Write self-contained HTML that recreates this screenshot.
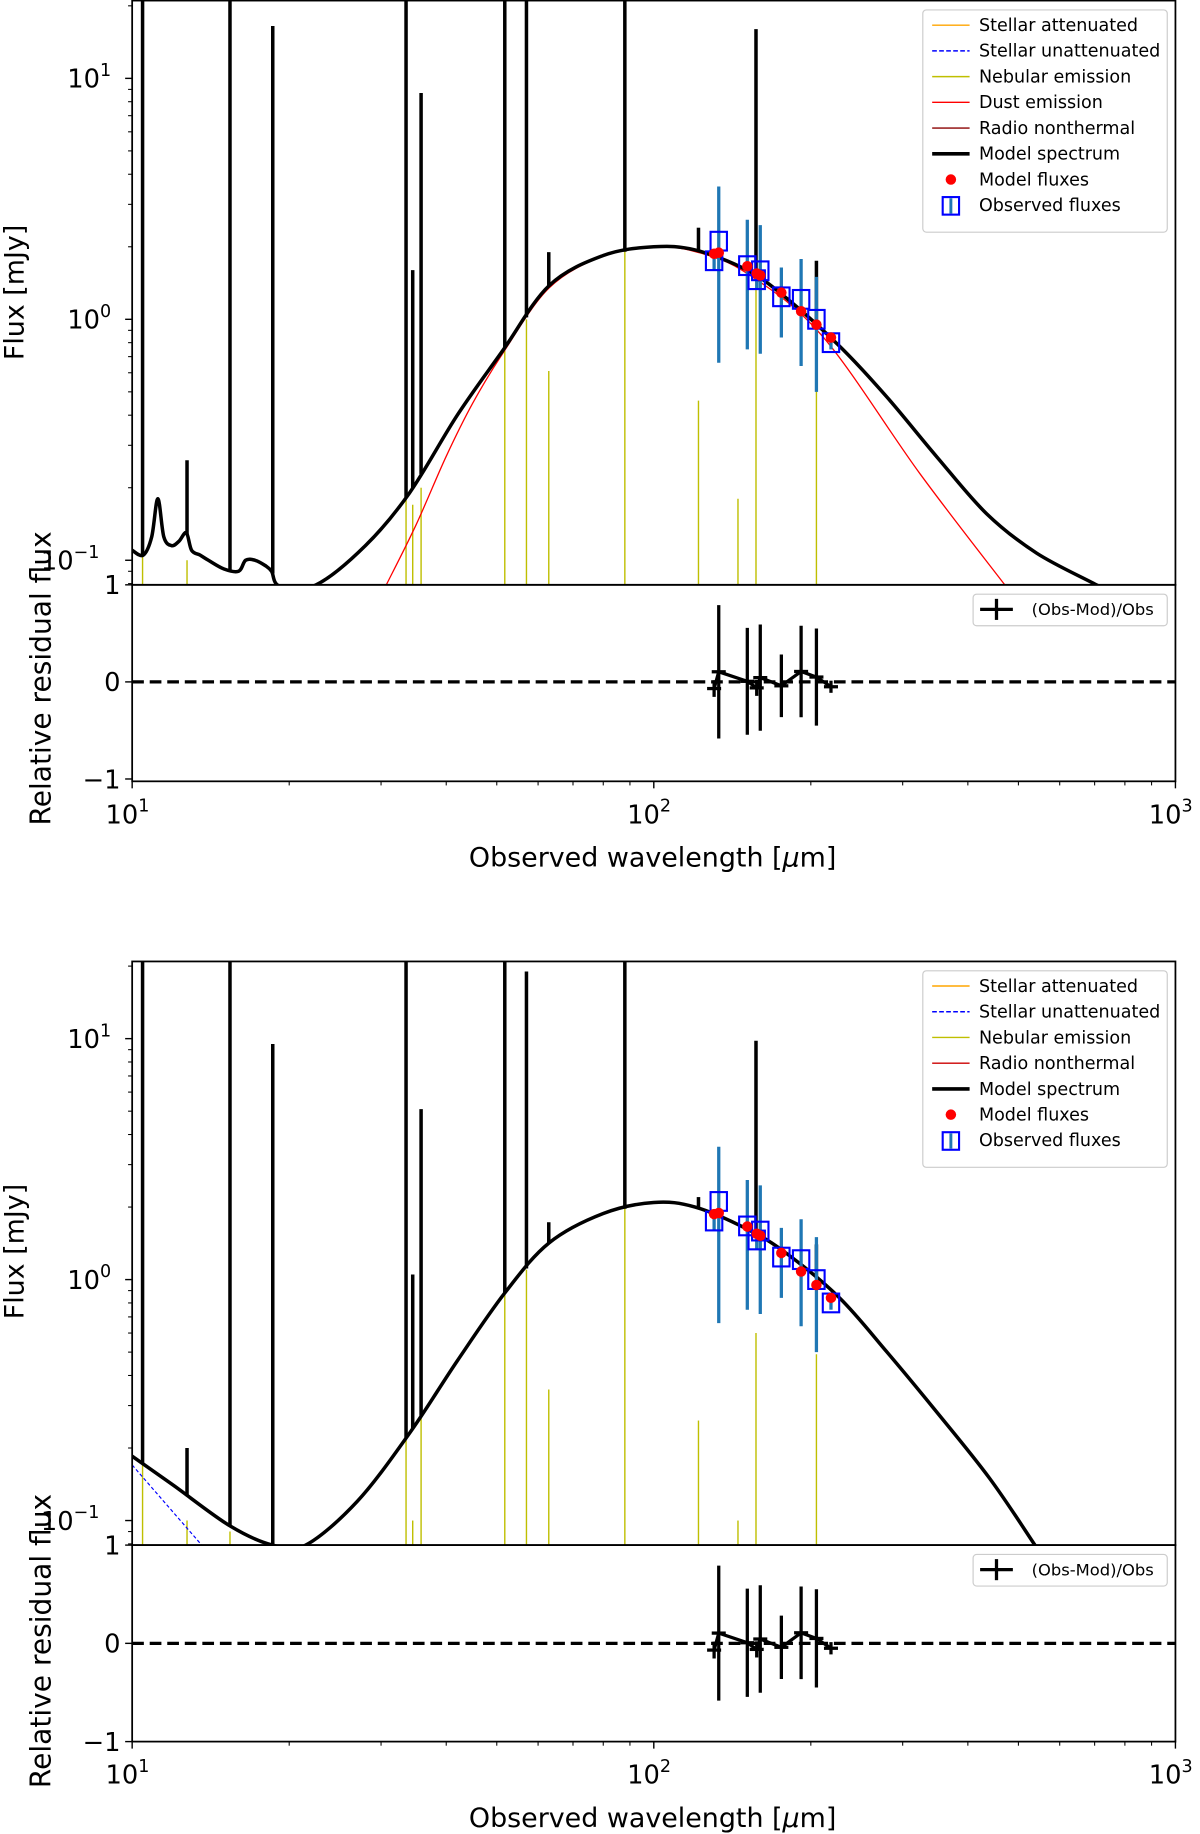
<!DOCTYPE html>
<html><head><meta charset="utf-8"><style>
html,body{margin:0;padding:0;background:#fff}
svg{display:block}
text{font-family:"DejaVu Sans","Liberation Sans",sans-serif;fill:#000}
</style></head><body>
<svg id="chart" width="1200" height="1834" viewBox="0 0 1026 1568" preserveAspectRatio="none" xmlns="http://www.w3.org/2000/svg"></svg>
<script>
// ---- data (shared observations) ----
const obsW   = [130.5, 133.2, 151.1, 157.5, 160.0, 175.6, 191.6, 205.0, 218.6];
const obsF   = [1.75, 2.11, 1.67, 1.46, 1.59, 1.24, 1.21, 1.00, 0.80];
const obsErr = [0.15, 1.45, 0.92, 0.12, 0.87, 0.40, 0.57, 0.50, 0.05];
const modF1  = [1.87, 1.89, 1.66, 1.55, 1.52, 1.29, 1.08, 0.95, 0.84];
const modF2  = [1.87, 1.89, 1.66, 1.55, 1.52, 1.29, 1.08, 0.95, 0.84];
// emission line wavelengths (shared)
const lineW  = [10.47, 12.74, 15.4, 18.6, 33.5, 34.5, 35.8, 51.8, 57.0, 62.9, 88.0, 121.8, 157.0, 205.0];
// top panel
const topLinePeak = [100, 0.26, 100, 16.5, 100, 1.6, 8.7, 100, 100, 1.9, 100, 2.4, 16, 1.75];
const topNebW     = [10.47, 12.74, 33.5, 34.5, 35.8, 51.8, 57.0, 62.9, 88.0, 121.8, 145.0, 157.0, 205.0];
const topNebPeak  = [0.11, 0.1, 0.2, 0.17, 0.2, 0.8, 1.0, 0.61, 2.0, 0.46, 0.18, 1.5, 0.9];
const topContW = [10, 10.5, 10.9, 11.2, 11.5, 11.9, 12.3, 12.7, 13.0, 13.5, 14.0, 15.0, 16.0, 16.5, 17.2, 18.0, 18.5, 19.2, 22.5, 28, 34, 42, 51.3, 63, 80, 100, 120, 151, 180, 227.5, 279.5, 348.6, 434.5, 542, 706, 800];
const topContF = [0.11, 0.105, 0.125, 0.18, 0.125, 0.115, 0.12, 0.13, 0.11, 0.105, 0.1, 0.092, 0.09, 0.1, 0.1, 0.095, 0.09, 0.078, 0.079, 0.115, 0.19, 0.4, 0.74, 1.38, 1.84, 2.0, 1.94, 1.6, 1.22, 0.77, 0.477, 0.269, 0.156, 0.107, 0.079, 0.068];
const topDustW = [30.7, 35, 40, 45, 51.3, 63, 80, 100, 120, 151, 211, 323.6, 471, 520];
const topDustF = [0.079, 0.14, 0.27, 0.45, 0.72, 1.35, 1.83, 1.99, 1.91, 1.55, 0.846, 0.229, 0.079, 0.06];
// bottom panel
const botLinePeak = [100, 0.2, 100, 9.5, 100, 1.05, 5.1, 100, 19, 1.73, 100, 2.2, 9.8, 1.4];
const botNebW     = [10.47, 12.74, 15.4, 33.5, 34.5, 35.8, 51.8, 57.0, 62.9, 88.0, 121.8, 145.0, 157.0, 205.0];
const botNebPeak  = [0.17, 0.1, 0.09, 0.22, 0.1, 0.27, 0.9, 1.1, 0.35, 2.0, 0.26, 0.1, 0.6, 0.49];
const botContW = [10, 12, 15.4, 18.6, 21.5, 27, 34, 42, 51.8, 63, 80, 100, 120, 151, 180, 227, 280, 345, 440, 538, 600];
const botContF = [0.185, 0.14, 0.095, 0.079, 0.079, 0.12, 0.23, 0.46, 0.88, 1.42, 1.88, 2.09, 2.0, 1.62, 1.28, 0.84, 0.5, 0.29, 0.15, 0.079, 0.055];
const botStellarW = [10, 13.6];
const botStellarF = [0.17, 0.079];
const xTickVals = [10, 100, 1000];
const xTickExp = ['1', '2', '3'];

const NS = 'http://www.w3.org/2000/svg';
const svg = document.getElementById('chart');
function el(tag, attrs, parent) {
  const e = document.createElementNS(NS, tag);
  for (const k in attrs) e.setAttribute(k, attrs[k]);
  (parent || svg).appendChild(e);
  return e;
}
const X0 = 113, X1 = 1005, DEC = 446;
const xS = w => X0 + DEC * (Math.log10(w) - 1);

function smoothPath(P) {
  let d = 'M' + P[0][0] + ',' + P[0][1];
  for (let i = 0; i < P.length - 1; i++) {
    const p0 = P[Math.max(i - 1, 0)], p1 = P[i], p2 = P[i + 1], p3 = P[Math.min(i + 2, P.length - 1)];
    const c1x = p1[0] + (p2[0] - p0[0]) / 6, c1y = p1[1] + (p2[1] - p0[1]) / 6;
    const c2x = p2[0] - (p3[0] - p1[0]) / 6, c2y = p2[1] - (p3[1] - p1[1]) / 6;
    d += ' C' + c1x + ',' + c1y + ' ' + c2x + ',' + c2y + ' ' + p2[0] + ',' + p2[1];
  }
  return d;
}

function interpLog(ws, fs, w) {
  const lw = Math.log10(w);
  for (let i = 0; i < ws.length - 1; i++) {
    const a = Math.log10(ws[i]), b = Math.log10(ws[i + 1]);
    if (lw >= a && lw <= b) {
      const t = (lw - a) / (b - a);
      return Math.pow(10, Math.log10(fs[i]) * (1 - t) + Math.log10(fs[i + 1]) * t);
    }
  }
  return fs[fs.length - 1];
}

function panel(p) {
  const g = el('g', {});
  
  
  const yS = f => p.y0 - 206 * Math.log10(f);
  const rS = r => p.rMid - p.rUnit * r;
  const cid = p.name + '-clip';
  const cp = el('clipPath', { id: cid }, g);
  el('rect', { x: X0, y: p.top, width: X1 - X0, height: p.bot - p.top }, cp);
  const cg = el('g', { 'clip-path': 'url(#' + cid + ')' }, g);

  p.nebW.forEach((w, i) => {
    const l = el('line', { x1: xS(w), x2: xS(w), y1: p.bot + 2, y2: yS(p.nebPeak[i]), stroke: '#bfbf00', 'stroke-width': 1.2 }, cg);
    
    
  });
  if (p.stW) {
    const pts = p.stW.map((w, i) => xS(w) + ',' + yS(p.stF[i])).join(' ');
    const s = el('polyline', { points: pts, fill: 'none', stroke: '#0000ff', 'stroke-width': 1, 'stroke-dasharray': '3,2' }, cg);
    
    
  }
  if (p.dustW) {
    const d = el('path', { d: smoothPath(p.dustW.map((w, i) => [xS(w), yS(p.dustF[i])])), fill: 'none', stroke: '#ff0000', 'stroke-width': 1.1 }, cg);
    
    
  }
  const m = el('path', { d: smoothPath(p.contW.map((w, i) => [xS(w), yS(p.contF[i])])), fill: 'none', stroke: '#000', 'stroke-width': 3, 'stroke-linejoin': 'round' }, cg);
  
  
  lineW.forEach((w, i) => {
    const base = interpLog(p.contW, p.contF, w);
    const l = el('line', { x1: xS(w), x2: xS(w), y1: yS(base), y2: yS(p.linePeak[i]), stroke: '#000', 'stroke-width': 3 }, cg);
    
    
  });
  obsW.forEach((w, i) => {
    const lo = Math.max(obsF[i] - obsErr[i], 0.01);
    const e = el('line', { x1: xS(w), x2: xS(w), y1: yS(obsF[i] + obsErr[i]), y2: yS(lo), stroke: '#1f77b4', 'stroke-width': 2.8 }, cg);
    
    
  });
  obsW.forEach((w, i) => {
    const b = el('rect', { x: xS(w) - 7, y: yS(obsF[i]) - 8, width: 14, height: 16, fill: 'none', stroke: '#0000ff', 'stroke-width': 1.8 }, cg);
    
    
  });
  p.modF.forEach((f, i) => {
    const c = el('circle', { cx: xS(obsW[i]), cy: yS(f), r: 4.5, fill: '#ff0000' }, cg);
    
    
  });

  const zl = el('line', { x1: X0, x2: X1, y1: rS(0), y2: rS(0), stroke: '#000', 'stroke-width': 2.8, 'stroke-dasharray': '10,5' }, g);
  
  
  const res = obsF.map((o, i) => (o - p.modF[i]) / o);
  const rerr = obsF.map((o, i) => obsErr[i] / o);
  const rl = el('polyline', { points: obsW.map((w, i) => xS(w) + ',' + rS(res[i])).join(' '), fill: 'none', stroke: '#000', 'stroke-width': 2.8 }, g);
  
  
  obsW.forEach((w, i) => {
    const e = el('line', { x1: xS(w), x2: xS(w), y1: rS(res[i] + rerr[i]), y2: rS(res[i] - rerr[i]), stroke: '#000', 'stroke-width': 2.8 }, g);
    
    
    const h = el('line', { x1: xS(w) - 6, x2: xS(w) + 6, y1: rS(res[i]), y2: rS(res[i]), stroke: '#000', 'stroke-width': 2.8 }, g);
    
    
  });

  el('rect', { x: X0, y: p.top, width: X1 - X0, height: p.bot - p.top, fill: 'none', stroke: '#000', 'stroke-width': 1.5 }, g);
  el('rect', { x: X0, y: p.bot, width: X1 - X0, height: p.rBot - p.bot, fill: 'none', stroke: '#000', 'stroke-width': 1.5 }, g);

  for (let d = -2; d <= 1; d++) {
    for (let k = 1; k <= 9; k++) {
      const f = k * Math.pow(10, d);
      const y = yS(f);
      if (y < p.top || y > p.bot) continue;
      el('line', { x1: X0 - (k === 1 ? 6 : 3.5), x2: X0, y1: y, y2: y, stroke: '#000', 'stroke-width': k === 1 ? 1.2 : 0.9 }, g);
      if (k === 1) {
        const t = el('text', { x: X0 - 8 - (d === -1 ? 20 : 10), y: y + 8, 'font-size': 22, 'text-anchor': 'end' }, g);
        
        
        t.textContent = '10';
        const s = el('tspan', { dy: -10, 'font-size': 15 }, t);
        s.textContent = d === -1 ? '\u22121' : String(d);
      }
    }
  }
  [1, 0, -1].forEach(r => {
    el('line', { x1: X0 - 6, x2: X0, y1: rS(r), y2: rS(r), stroke: '#000', 'stroke-width': 1.2 }, g);
    const t = el('text', { x: X0 - 10, y: rS(r) + 8, 'font-size': 22, 'text-anchor': 'end' }, g);
    
    
    t.textContent = r === -1 ? '\u22121' : String(r);
  });
  for (let d = 1; d <= 2; d++) for (let k = 2; k <= 9; k++) {
    const x = xS(k * Math.pow(10, d));
    el('line', { x1: x, x2: x, y1: p.rBot, y2: p.rBot + 3.5, stroke: '#000', 'stroke-width': 0.9 }, g);
  }
  xTickVals.forEach((v, i) => {
    const x = xS(v);
    el('line', { x1: x, x2: x, y1: p.rBot, y2: p.rBot + 6, stroke: '#000', 'stroke-width': 1.2 }, g);
    const t = el('text', { x: x - 4, y: p.rBot + 36, 'font-size': 22, 'text-anchor': 'middle' }, g);
    
    
    t.textContent = '10';
    const s = el('tspan', { dy: -10, 'font-size': 15 }, t);
    s.textContent = xTickExp[i];
  });
  const xl = el('text', { x: 558, y: p.rBot + 73, 'font-size': 23, 'text-anchor': 'middle' }, g);
  
  
  xl.textContent = 'Observed wavelength [';
  const mu = el('tspan', { 'font-style': 'italic' }, xl);
  mu.textContent = '\u03bc';
  const mt = el('tspan', {}, xl);
  mt.textContent = 'm]';
  const yl = el('text', { x: 0, y: 0, 'font-size': 23, 'text-anchor': 'middle', transform: 'translate(20,' + p.fluxLabY + ') rotate(-90)' }, g);
  
  
  yl.textContent = 'Flux [mJy]';
  const rl2 = el('text', { x: 0, y: 0, 'font-size': 24, 'text-anchor': 'middle', transform: 'translate(43,' + p.resLabY + ') rotate(-90)' }, g);
  
  
  rl2.textContent = 'Relative residual flux';

  const lg = el('g', {}, g);
  
  
  el('rect', { x: 789, y: p.top + p.legTop, width: 209, height: p.legItems.length * 22 + 14, rx: 3, fill: '#fff', 'fill-opacity': 0.8, stroke: '#ccc', 'stroke-width': 1 }, lg);
  p.legItems.forEach((it, i) => {
    const y = p.top + p.legTop + 13 + i * 22;
    if (it[1] === 'dot') el('circle', { cx: 813, cy: y, r: 4.5, fill: '#f00' }, lg);
    else if (it[1] === 'box') {
      el('rect', { x: 806, y: y - 7, width: 14, height: 15, fill: 'none', stroke: '#00f', 'stroke-width': 1.8 }, lg);
      el('line', { x1: 813, x2: 813, y1: y - 6, y2: y + 7, stroke: '#1f77b4', 'stroke-width': 2.5 }, lg);
    } else el('line', { x1: 797, x2: 829, y1: y, y2: y, stroke: it[1], 'stroke-width': it[2], 'stroke-dasharray': it[3] || 'none' }, lg);
    const t = el('text', { x: 837, y: y + 5, 'font-size': 15 }, lg);
    
    
    t.textContent = it[0];
  });
  const rlg = el('g', {}, g);
  
  
  el('rect', { x: 832, y: p.bot + 8, width: 166, height: 27, rx: 3, fill: '#fff', stroke: '#ccc', 'stroke-width': 1 }, rlg);
  el('line', { x1: 838, x2: 866, y1: p.bot + 21, y2: p.bot + 21, stroke: '#000', 'stroke-width': 2.8 }, rlg);
  el('line', { x1: 852, x2: 852, y1: p.bot + 12, y2: p.bot + 30, stroke: '#000', 'stroke-width': 2.8 }, rlg);
  const rt = el('text', { x: 882, y: p.bot + 26, 'font-size': 14 }, rlg);
  rt.textContent = '(Obs-Mod)/Obs';
}

const legTop = [['Stellar attenuated', '#ffa500', 1.2], ['Stellar unattenuated', '#0000ff', 1.2, '4,2'], ['Nebular emission', '#bfbf00', 1.2], ['Dust emission', '#ff0000', 1.2], ['Radio nonthermal', '#8b0000', 1.2], ['Model spectrum', '#000', 3], ['Model fluxes', 'dot'], ['Observed fluxes', 'box']];
const legBot = [['Stellar attenuated', '#ffa500', 1.2], ['Stellar unattenuated', '#0000ff', 1.2, '4,2'], ['Nebular emission', '#bfbf00', 1.2], ['Radio nonthermal', '#cc0000', 1.2], ['Model spectrum', '#000', 3], ['Model fluxes', 'dot'], ['Observed fluxes', 'box']];

panel({ name: 'top-panel', top: 0.5, bot: 500, rBot: 668, y0: 273, rMid: 583, rUnit: 83, contW: topContW, contF: topContF, dustW: topDustW, dustF: topDustF, nebW: topNebW, nebPeak: topNebPeak, linePeak: topLinePeak, modF: modF1, legItems: legTop, legTop: 8, fluxLabY: 250, resLabY: 580 });
panel({ name: 'bottom-panel', top: 822, bot: 1321, rBot: 1489, y0: 1094, rMid: 1405, rUnit: 84, contW: botContW, contF: botContF, stW: botStellarW, stF: botStellarF, nebW: botNebW, nebPeak: botNebPeak, linePeak: botLinePeak, modF: modF2, legItems: legBot, legTop: 8, fluxLabY: 1070, resLabY: 1403 });
</script>
</body></html>
